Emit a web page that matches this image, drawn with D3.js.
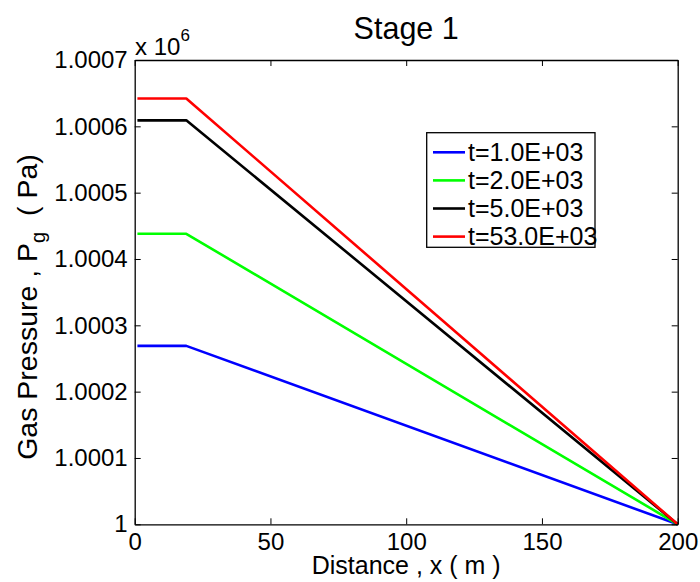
<!DOCTYPE html>
<html>
<head>
<meta charset="utf-8">
<script src="https://cdn.jsdelivr.net/npm/d3@7"></script>
<style>
  html, body { margin: 0; padding: 0; background: #fff; }
  text { font-family: Arial, "Liberation Sans", Helvetica, sans-serif; fill: #000; }
</style>
</head>
<body>
<svg id="chart" width="700" height="582"></svg>
<script>
// ---- data ----
const distance = [1, 19, 200];
const seriesNames = ["t=1.0E+03", "t=2.0E+03", "t=5.0E+03", "t=53.0E+03"];
const seriesColors = ["#0000ff", "#00ff00", "#000000", "#ff0000"];
const pressure_t1 = [1000269, 1000269, 1000000];
const pressure_t2 = [1000438, 1000438, 1000000];
const pressure_t5 = [1000609, 1000609, 1000000];
const pressure_t53 = [1000642, 1000642, 1000000];
const xTicks = [0, 50, 100, 150, 200];
const yTicks = [1000000, 1000100, 1000200, 1000300, 1000400, 1000500, 1000600, 1000700];
const yTickLabels = ["1", "1.0001", "1.0002", "1.0003", "1.0004", "1.0005", "1.0006", "1.0007"];

const allSeries = [pressure_t1, pressure_t2, pressure_t5, pressure_t53];

const svg = d3.select("#chart");
const L = 134.7, R = 677.7, T = 60, B = 524.3;

const x = d3.scaleLinear().domain([0, 200]).range([L, R]);
const y = d3.scaleLinear().domain([1000000, 1000700]).range([B, T]);

// data lines
const line = d3.line().x((d, i) => x(distance[i])).y(d => y(d));
const g = svg.append("g");
allSeries.forEach((s, k) => {
  g.append("path").datum(s).attr("d", line)
    .attr("fill", "none").attr("stroke", seriesColors[k])
    .attr("stroke-width", 2.6).attr("stroke-linejoin", "round");
});

// axes (MATLAB style box with inward ticks)
const tickLen = 6;
const axB = svg.append("g").attr("transform", `translate(0,${B})`)
  .call(d3.axisBottom(x).tickValues(xTicks).tickSizeInner(-tickLen).tickSizeOuter(0).tickPadding(9));
const axT = svg.append("g").attr("transform", `translate(0,${T})`)
  .call(d3.axisTop(x).tickValues(xTicks).tickSizeInner(-tickLen).tickSizeOuter(0).tickFormat(""));
const axL = svg.append("g").attr("transform", `translate(${L},0)`)
  .call(d3.axisLeft(y).tickValues(yTicks).tickSizeInner(-tickLen).tickSizeOuter(0).tickPadding(7)
    .tickFormat((d, i) => yTickLabels[i]));
const axR = svg.append("g").attr("transform", `translate(${R},0)`)
  .call(d3.axisRight(y).tickValues(yTicks).tickSizeInner(-tickLen).tickSizeOuter(0).tickFormat(""));

[axB, axT, axL, axR].forEach(a => {
  a.select(".domain").attr("stroke", "#000").attr("stroke-width", 1.3);
  a.selectAll(".tick line").attr("stroke", "#000").attr("stroke-width", 1);
  a.selectAll("text").attr("font-size", 24).attr("font-family", "Arial, 'Liberation Sans', sans-serif").attr("fill", "#000");
});
axB.selectAll("text").attr("dy", "0.71em");

// x 10^6 multiplier
const mult = svg.append("text").attr("x", 135).attr("y", 55).attr("font-size", 24);
mult.append("tspan").text("x 10");
mult.append("tspan").attr("font-size", 17).attr("dy", -14).text("6");

// title
svg.append("text").attr("x", (L + R) / 2).attr("y", 39).attr("text-anchor", "middle")
  .attr("font-size", 30.5).text("Stage 1");

// x label
svg.append("text").attr("x", (L + R) / 2).attr("y", 574).attr("text-anchor", "middle")
  .attr("font-size", 25).text("Distance , x ( m )");

// y label
const yl = svg.append("text").attr("transform", "translate(37,307) rotate(-90)")
  .attr("text-anchor", "middle").attr("font-size", 28.5).style("white-space", "pre");
yl.append("tspan").text("Gas Pressure , P");
yl.append("tspan").attr("font-size", 20).attr("dy", 8).text("g");
yl.append("tspan").attr("dy", -8).text("  ( Pa)");

// legend
const lg = svg.append("g");
lg.append("rect").attr("x", 426.7).attr("y", 132.7).attr("width", 168.3).attr("height", 114.6)
  .attr("fill", "#fff").attr("stroke", "#000").attr("stroke-width", 1.3);
seriesNames.forEach((name, k) => {
  const cy = 152.3 + k * 28.1;
  lg.append("line").attr("x1", 433).attr("x2", 465).attr("y1", cy).attr("y2", cy)
    .attr("stroke", seriesColors[k]).attr("stroke-width", 2.6);
  lg.append("text").attr("x", 468).attr("y", cy).attr("dy", "0.35em")
    .attr("font-size", 25).text(name);
});
</script>
</body>
</html>
